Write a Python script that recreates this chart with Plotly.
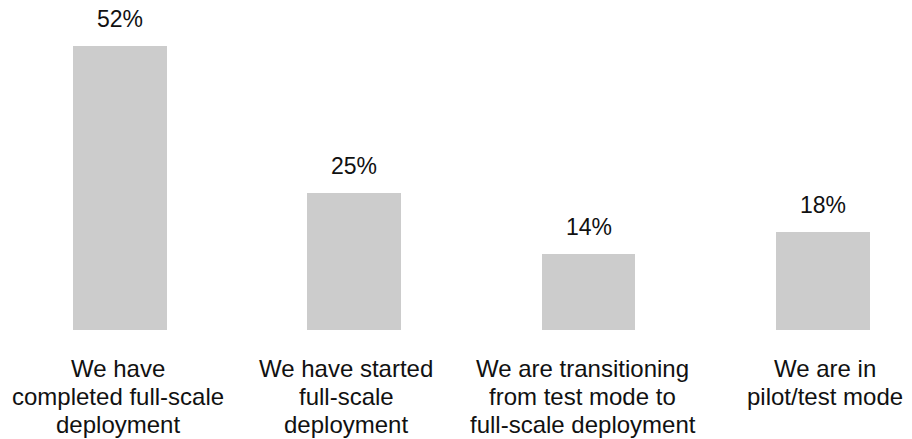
import plotly.graph_objects as go

# Deployment stage categories and share of respondents (%)
categories = [
    "We have<br>completed full-scale<br>deployment",
    "We have started<br>full-scale<br>deployment",
    "We are transitioning<br>from test mode to<br>full-scale deployment",
    "We are in<br>pilot/test mode",
]
shares = [52, 25, 14, 18]
positions = [0, 1, 2, 3]

BAR_COLOR = "#cccccc"
TEXT_COLOR = "#111111"
FONT = "Liberation Sans, Arial, sans-serif"
VALUE_SIZE = 23
LABEL_SIZE = 24
LINE_STEP = 28          # px between wrapped label lines
FIRST_LINE_DROP = 38    # px from the baseline of the bars to the first label line
label_nudge = [-2, -8, -6, 2]   # small horizontal offsets of the wrapped labels

fig = go.Figure(
    go.Bar(
        x=positions,
        y=shares,
        width=0.4,
        marker=dict(color=BAR_COLOR, line=dict(width=0)),
        hoverinfo="skip",
    )
)

# Percentage labels above each bar
for xv, v in zip(positions, shares):
    fig.add_annotation(
        x=xv, y=v, text=f"{v}%", showarrow=False,
        yanchor="bottom", yshift=12,
        font=dict(family=FONT, size=VALUE_SIZE, color=TEXT_COLOR),
    )

# Category labels below the bars, one annotation per wrapped line
for xv, label, dx in zip(positions, categories, label_nudge):
    for j, line in enumerate(label.split("<br>")):
        fig.add_annotation(
            x=xv, y=0, text=line, showarrow=False,
            xanchor="center", yanchor="middle",
            xshift=dx, yshift=-(FIRST_LINE_DROP + j * LINE_STEP),
            font=dict(family=FONT, size=LABEL_SIZE, color=TEXT_COLOR),
        )

fig.update_layout(
    width=912, height=439,
    margin=dict(l=0, r=0, t=0, b=109),
    paper_bgcolor="white", plot_bgcolor="white",
    showlegend=False,
    bargap=0,
    font=dict(family=FONT, size=LABEL_SIZE, color=TEXT_COLOR),
)
fig.update_xaxes(
    range=[-0.512, 3.380],
    showticklabels=False,
    showgrid=False, zeroline=False, showline=False, ticks="",
)
fig.update_yaxes(
    range=[0, 60.42], visible=False, showgrid=False, zeroline=False,
)

fig.write_html("out.html")
